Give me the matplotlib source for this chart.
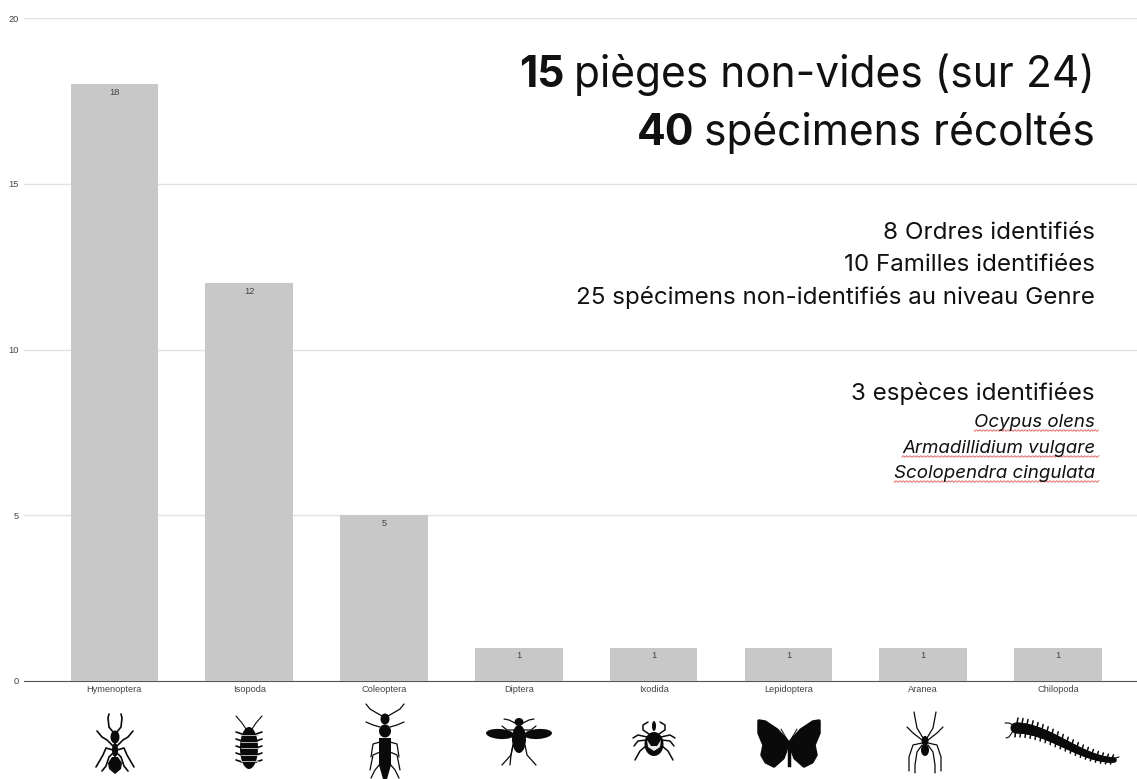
import matplotlib
matplotlib.use("Agg")
import matplotlib.pyplot as plt
import numpy as np
from matplotlib.patches import Ellipse, Polygon

orders = ["Hymenoptera", "Isopoda", "Coleoptera", "Diptera",
          "Ixodida", "Lepidoptera", "Aranea", "Chilopoda"]
counts = [18, 12, 5, 1, 1, 1, 1, 1]
y_ticks = [0, 5, 10, 15, 20]

W, H = 1137, 779
BLK = "#0a0a0a"
UI = "Inter"

fig = plt.figure(figsize=(W / 100, H / 100), dpi=100)
ax = fig.add_axes([24 / W, 1 - 681 / H, (W - 24) / W, 663 / H])
x = np.arange(len(orders))
ax.bar(x, counts, width=0.65, color="#c8c8c8", zorder=2)
ax.set_xlim(-0.67, 7.585)
ax.set_ylim(0, 20)
ax.set_yticks(y_ticks)
ax.set_xticks(x, orders)
ax.tick_params(length=0, labelsize=6.7, labelcolor="#444444", pad=4)
ax.tick_params(axis="x", pad=3)
for lab in ax.get_xticklabels() + ax.get_yticklabels():
    lab.set_family("Liberation Sans")
ax.grid(axis="y", color="#e2e2e2", lw=1, zorder=1)
for s in ["top", "right", "left"]:
    ax.spines[s].set_visible(False)
ax.spines["bottom"].set_color("#555555")
ax.spines["bottom"].set_zorder(1)
for xi, c in zip(x, counts):
    ax.annotate(str(c), (xi, c), xytext=(0, -2.5), textcoords="offset points",
                ha="center", va="top", fontsize=6.7, color="#444444",
                family="Liberation Sans", zorder=3)

# overlay in image pixels, for the pasted text and the silhouettes
ov = fig.add_axes([0, 0, 1, 1], zorder=5)
ov.set_xlim(0, W)
ov.set_ylim(H, 0)
ov.axis("off")
ov.patch.set_alpha(0)


def headline(bold, rest, y):
    t = ov.text(1095, y, rest, ha="right", va="baseline", fontsize=30.6, family=UI, color="#111111")
    fig.canvas.draw()
    left = t.get_window_extent().x0
    ov.text(left - 10, y, bold, ha="right", va="baseline", fontsize=30.6,
            family=UI, weight="bold", color="#111111")


headline("15", "pièges non-vides (sur 24)", 87)
headline("40", "spécimens récoltés", 145)

for txt, y in [("8 Ordres identifiés", 239),
               ("10 Familles identifiées", 271),
               ("25 spécimens non-identifiés au niveau Genre", 304),
               ("3 espèces identifiées", 400)]:
    ov.text(1095, y, txt, ha="right", va="baseline", fontsize=17.4, family=UI, color="#111111")

# species names with the spell-check squiggle under each word
species = [("Ocypus olens", 427), ("Armadillidium vulgare", 453), ("Scolopendra cingulata", 478)]
for name, y in species:
    t = ov.text(1095, y, name, ha="right", va="baseline", fontsize=13.5, family=UI,
                style="italic", color="#111111")
    fig.canvas.draw()
    x0 = t.get_window_extent().x0
    xs = np.arange(x0, 1099, 1.0)
    ov.plot(xs, y + 3.5 + 0.8 * np.sin(xs * 1.8), color="#e26a6a", lw=0.7)


def legs(paths, lw=1.3):
    for p in paths:
        p = np.array(p, float)
        ov.plot(p[:, 0], p[:, 1], color=BLK, lw=lw, solid_capstyle="round", solid_joinstyle="round")


def mirrored(cx, paths, lw=1.3, d=0):
    for p in paths:
        legs([[(cx + a, b + d) for a, b in p], [(cx - a, b + d) for a, b in p]], lw)


def blob(cx, cy, w, h, color=BLK, angle=0):
    ov.add_patch(Ellipse((cx, cy), w, h, angle=angle, color=color, lw=0, zorder=3))


# ant
c = 115
blob(c, 737, 9, 13)
blob(c, 750, 6, 14)
ov.add_patch(Polygon([(c - 3, 757), (c + 3, 757), (c + 7, 763), (c + 6, 769), (c, 774),
                      (c - 6, 769), (c - 7, 763)], color=BLK, lw=0))
mirrored(c, [[(2, 732), (6, 727), (7, 718), (6, 714)],
             [(2, 746), (8, 740), (13, 737), (18, 731)],
             [(2, 750), (9, 748), (12, 755), (19, 767)],
             [(2, 753), (6, 757), (9, 766), (13, 771)]], 1.2)

# isopod
c = 249
mirrored(c, [[(3, 729), (7, 723), (13, 716)]], 0.8)
mirrored(c, [[(7, yy), (13, yy - 2)] for yy in np.arange(734, 768, 7)], 1.2)
blob(c, 748, 18, 42)
for yy in np.arange(735, 765, 6.5):
    ov.plot([c - 8.5, c + 8.5], [yy, yy], color="#d0d0d0", lw=0.6, zorder=4)

# rove beetle
c = 385
blob(c, 719, 9, 11)
blob(c, 731, 12, 13)
ov.add_patch(Polygon([(c - 6, 738), (c + 6, 738), (c + 6, 765), (c + 2, 779), (c - 2, 779),
                      (c - 6, 765)], color=BLK, lw=0))
mirrored(c, [[(3, 716), (10, 712), (15, 709), (19, 704)],
             [(5, 727), (12, 725), (19, 722)],
             [(5, 742), (12, 744), (14, 757)],
             [(5, 752), (12, 755), (15, 770)],
             [(5, 764), (10, 770), (14, 778)]], 0.9)

# fly
c = 519
d = -7
blob(c, 729 + d, 9, 8)
blob(c, 746 + d, 14, 28)
blob(c - 19, 741 + d, 28, 10, angle=4)
blob(c + 19, 741 + d, 28, 10, angle=-4)
mirrored(c, [[(4, 730), (10, 727), (15, 726)],
             [(5, 737), (12, 737), (17, 733)],
             [(6, 752), (8, 762), (17, 772)]], 0.9, d)
legs([[(c - 6, 752 + d), (c - 8, 762 + d), (c - 9, 772 + d)]], 0.9)

# tick
c = 654
d = -8
blob(c, 752 + d, 19, 24)
blob(c, 734 + d, 4, 10)
ov.add_patch(Polygon([(c - 7, 748 + d), (c - 3, 754 + d), (c + 3, 754 + d), (c + 7, 748 + d),
                      (c + 6, 755 + d), (c, 759 + d), (c - 6, 755 + d)],
                     color="#e8e8e8", lw=0, zorder=4))
mirrored(c, [[(5, 742), (11, 738), (11, 733), (6, 730)],
             [(7, 745), (16, 743), (21, 746)],
             [(8, 748), (16, 749), (20, 754)],
             [(8, 754), (14, 759), (19, 768)]], 1.1, d)

# butterfly
c = 789
for s in (-1, 1):
    ov.add_patch(Polygon([(c + s * 2, 741), (c + s * 12, 730), (c + s * 24, 722), (c + s * 30, 721),
                          (c + s * 30, 733), (c + s * 25, 745), (c + s * 27, 755), (c + s * 23, 762),
                          (c + s * 15, 766), (c + s * 6, 758), (c + s * 3, 750)],
                         facecolor=BLK, edgecolor=BLK, lw=2.5, joinstyle="round"))
ov.plot([c, c], [742, 765], color=BLK, lw=2.5)
mirrored(c, [[(1, 741), (8, 729)]], 0.7)

# spider
c = 925
blob(c, 741, 7, 10)
blob(c, 750, 8, 12)
mirrored(c, [[(2, 738), (8, 728), (11, 712)],
             [(3, 740), (12, 733), (18, 727)],
             [(3, 743), (12, 745), (16, 757), (16, 771)],
             [(3, 745), (8, 752), (10, 765), (10, 773)]], 0.9)

# centipede
t = np.linspace(0, 1, 40)
cx_ = 1016 + 98 * t
cy_ = 728 + 32 * (3 * t ** 2 - 2 * t ** 3)
for i in range(0, 40, 2):
    dy = 4 + 5 * (1 - t[i])
    legs([[(cx_[i], cy_[i]), (cx_[i] + 2, cy_[i] - dy - 1)],
          [(cx_[i], cy_[i]), (cx_[i] - 1, cy_[i] + dy)]], 1.1)
for i in range(39):
    ov.plot(cx_[i:i + 2], cy_[i:i + 2], color=BLK, lw=8 - 4 * t[i], solid_capstyle="round")
legs([[(1013, 725), (1009, 723), (1005, 723)], [(1013, 731), (1009, 737), (1006, 738)],
      [(1112, 759), (1119, 757)]], 0.8)

fig.savefig("out.png", dpi=100)
